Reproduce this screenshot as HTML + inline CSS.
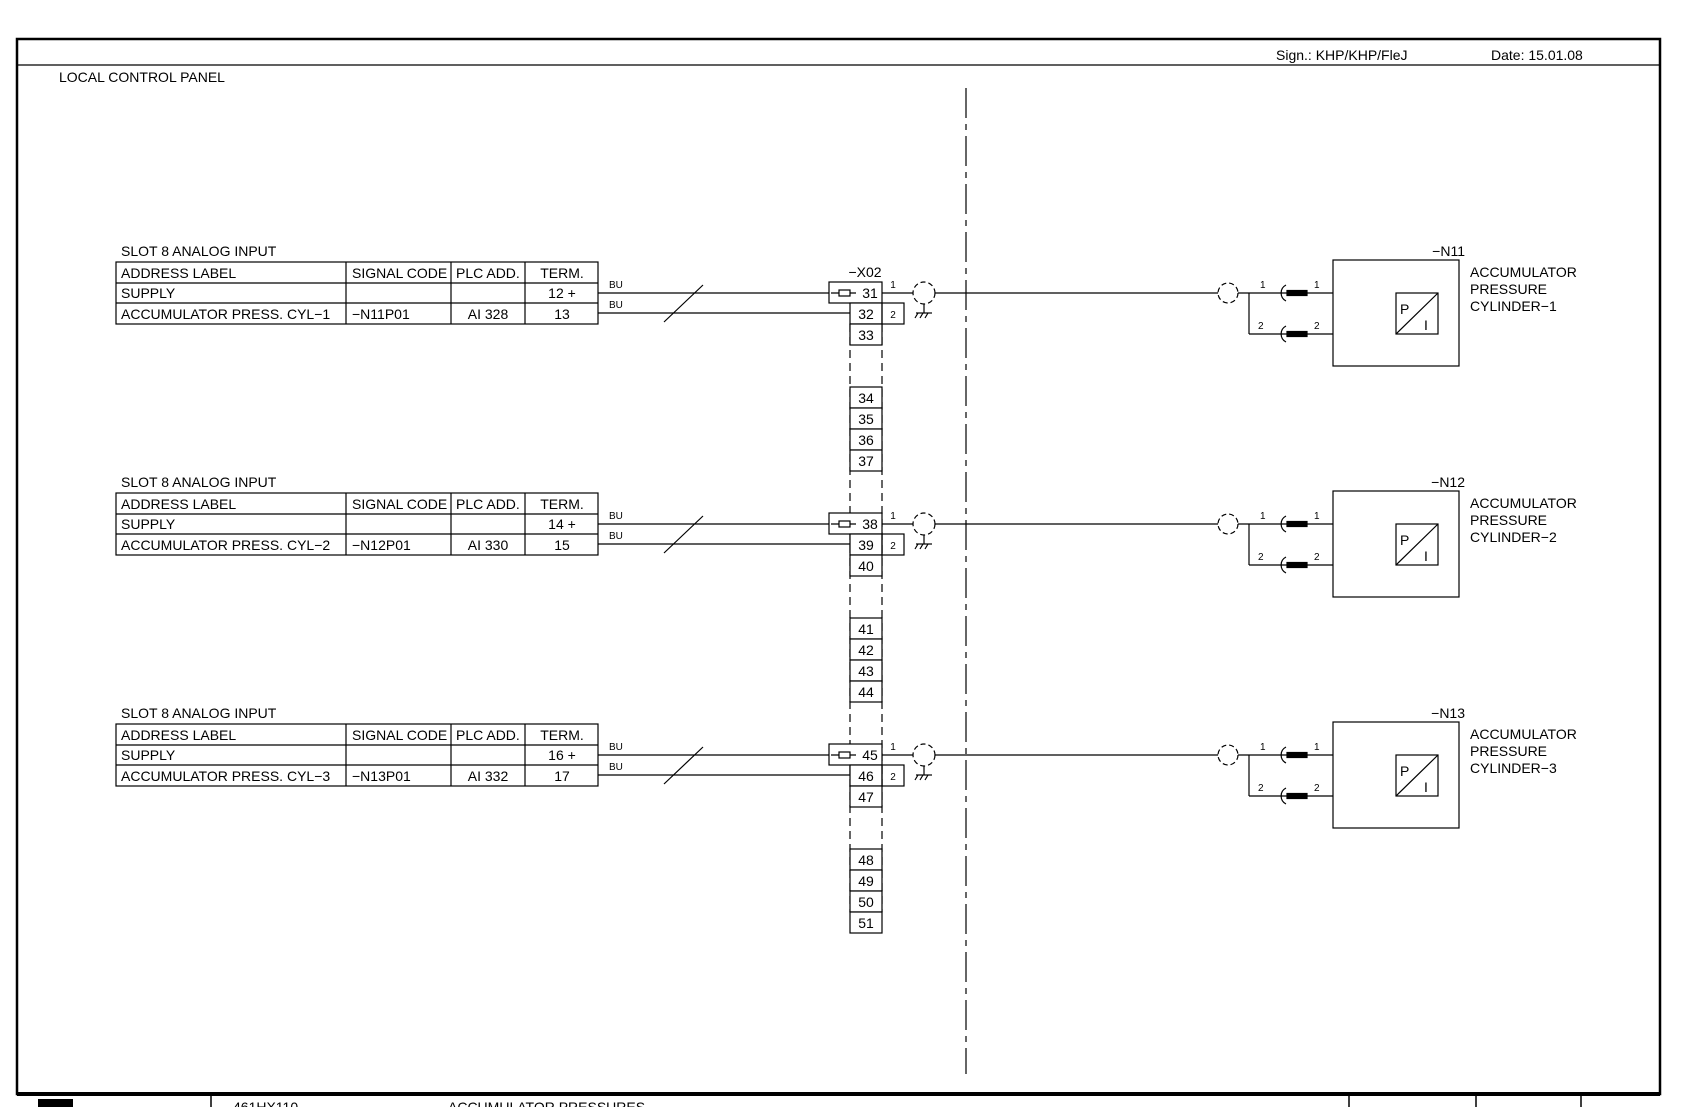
<!DOCTYPE html>
<html><head><style>
html,body{margin:0;padding:0;background:#fff;}
svg{display:block;}
text{font-family:"Liberation Sans",sans-serif;font-size:14px;fill:#000;}
.s{font-size:10px;}
</style></head><body>
<svg width="1681" height="1107" viewBox="0 0 1681 1107" xmlns="http://www.w3.org/2000/svg">
<defs>
<g id="row" fill="none" stroke="#000" stroke-width="1.2">
  <rect x="116" y="262" width="482" height="62"/>
  <line x1="116" y1="283" x2="598" y2="283"/>
  <line x1="116" y1="303" x2="598" y2="303"/>
  <line x1="346" y1="262" x2="346" y2="324"/>
  <line x1="451" y1="262" x2="451" y2="324"/>
  <line x1="525" y1="262" x2="525" y2="324"/>
  <line x1="598" y1="293" x2="829" y2="293"/>
  <line x1="598" y1="313" x2="850" y2="313"/>
  <line x1="664" y1="322" x2="703" y2="285"/>
  <rect x="829" y="282" width="53" height="21" fill="#fff"/>
  <line x1="831" y1="293" x2="856" y2="293"/>
  <rect x="839" y="290" width="11" height="6" fill="#fff"/>
  <rect x="850" y="303" width="32" height="21" fill="#fff"/>
  <rect x="850" y="324" width="32" height="21" fill="#fff"/>
  <rect x="882" y="303" width="22" height="21"/>
  <line x1="882" y1="293" x2="1249" y2="293"/>
  <circle cx="924" cy="293" r="11" fill="#fff" stroke-dasharray="5 3"/>
  <line x1="924" y1="304" x2="924" y2="313"/>
  <line x1="916" y1="313" x2="932" y2="313"/>
  <line x1="918" y1="313" x2="915" y2="318"/><line x1="923" y1="313" x2="920" y2="318"/><line x1="928" y1="313" x2="925" y2="318"/>
  <circle cx="1228" cy="293" r="10" fill="#fff" stroke-dasharray="5 3"/>
  <line x1="1249" y1="293" x2="1249" y2="334"/>
  <line x1="1249" y1="293" x2="1333" y2="293"/>
  <line x1="1249" y1="334" x2="1333" y2="334"/>
  <path d="M1286 285 A9 9 0 0 0 1286 301" />
  <path d="M1286 326 A9 9 0 0 0 1286 342" />
  <rect x="1287" y="290.5" width="20" height="5" fill="#000"/>
  <rect x="1287" y="331.5" width="20" height="5" fill="#000"/>
  <rect x="1333" y="260" width="126" height="106"/>
  <rect x="1396" y="293" width="42" height="41"/>
  <line x1="1396" y1="334" x2="1438" y2="293"/>
</g>
</defs>

<rect x="17" y="39" width="1643" height="1055" fill="none" stroke="#000" stroke-width="2.5"/>
<line x1="17" y1="65" x2="1660" y2="65" stroke="#000" stroke-width="1.2"/>
<text x="1276" y="60">Sign.:  KHP/KHP/FleJ</text>
<text x="1491" y="60">Date:  15.01.08</text>
<text x="59" y="82">LOCAL  CONTROL  PANEL</text>

<line x1="966" y1="88" x2="966" y2="1074" stroke="#000" stroke-width="1.2" stroke-dasharray="30 6 6 6"/>
<line x1="850" y1="324" x2="850" y2="912" stroke="#000" stroke-width="1.2" stroke-dasharray="8 5"/>
<line x1="882" y1="324" x2="882" y2="912" stroke="#000" stroke-width="1.2" stroke-dasharray="8 5"/>
<text x="865" y="277" text-anchor="middle">−X02</text>

<g fill="#fff" stroke="#000" stroke-width="1.2">
<rect x="850" y="387" width="32" height="21"/><rect x="850" y="408" width="32" height="21"/><rect x="850" y="429" width="32" height="21"/><rect x="850" y="450" width="32" height="21"/>
<rect x="850" y="618" width="32" height="21"/><rect x="850" y="639" width="32" height="21"/><rect x="850" y="660" width="32" height="21"/><rect x="850" y="681" width="32" height="21"/>
<rect x="850" y="849" width="32" height="21"/><rect x="850" y="870" width="32" height="21"/><rect x="850" y="891" width="32" height="21"/><rect x="850" y="912" width="32" height="21"/>
</g>
<g text-anchor="middle">
<text x="866" y="403">34</text><text x="866" y="424">35</text><text x="866" y="445">36</text><text x="866" y="466">37</text>
<text x="866" y="634">41</text><text x="866" y="655">42</text><text x="866" y="676">43</text><text x="866" y="697">44</text>
<text x="866" y="865">48</text><text x="866" y="886">49</text><text x="866" y="907">50</text><text x="866" y="928">51</text>
</g>

<use href="#row"/>
<use href="#row" transform="translate(0,231)"/>
<use href="#row" transform="translate(0,462)"/>

<g id="t1">
<text x="121" y="256">SLOT  8  ANALOG  INPUT</text>
<text x="121" y="278">ADDRESS  LABEL</text><text x="352" y="278">SIGNAL  CODE</text><text x="456" y="278">PLC  ADD.</text><text x="562" y="278" text-anchor="middle">TERM.</text>
<text x="121" y="298">SUPPLY</text><text x="562" y="298" text-anchor="middle">12  +</text>
<text x="121" y="319">ACCUMULATOR  PRESS.  CYL−1</text><text x="352" y="319">−N11P01</text><text x="488" y="319" text-anchor="middle">AI  328</text><text x="562" y="319" text-anchor="middle">13</text>
<text class="s" x="609" y="288">BU</text><text class="s" x="609" y="308">BU</text>
<text x="866" y="298" text-anchor="middle" dx="4">31</text><text x="866" y="319" text-anchor="middle">32</text><text x="866" y="340" text-anchor="middle">33</text>
<text class="s" x="893" y="288" text-anchor="middle">1</text><text class="s" x="893" y="318" text-anchor="middle">2</text>
<text class="s" x="1260" y="288">1</text><text class="s" x="1314" y="288">1</text><text class="s" x="1258" y="329">2</text><text class="s" x="1314" y="329">2</text>
<text x="1400" y="314">P</text><text x="1424" y="330">I</text>
<text x="1465" y="256" text-anchor="end">−N11</text>
<text x="1470" y="277">ACCUMULATOR</text><text x="1470" y="294">PRESSURE</text><text x="1470" y="311">CYLINDER−1</text>
</g>
<g transform="translate(0,231)">
<text x="121" y="256">SLOT  8  ANALOG  INPUT</text>
<text x="121" y="278">ADDRESS  LABEL</text><text x="352" y="278">SIGNAL  CODE</text><text x="456" y="278">PLC  ADD.</text><text x="562" y="278" text-anchor="middle">TERM.</text>
<text x="121" y="298">SUPPLY</text><text x="562" y="298" text-anchor="middle">14  +</text>
<text x="121" y="319">ACCUMULATOR  PRESS.  CYL−2</text><text x="352" y="319">−N12P01</text><text x="488" y="319" text-anchor="middle">AI  330</text><text x="562" y="319" text-anchor="middle">15</text>
<text class="s" x="609" y="288">BU</text><text class="s" x="609" y="308">BU</text>
<text x="866" y="298" text-anchor="middle" dx="4">38</text><text x="866" y="319" text-anchor="middle">39</text><text x="866" y="340" text-anchor="middle">40</text>
<text class="s" x="893" y="288" text-anchor="middle">1</text><text class="s" x="893" y="318" text-anchor="middle">2</text>
<text class="s" x="1260" y="288">1</text><text class="s" x="1314" y="288">1</text><text class="s" x="1258" y="329">2</text><text class="s" x="1314" y="329">2</text>
<text x="1400" y="314">P</text><text x="1424" y="330">I</text>
<text x="1465" y="256" text-anchor="end">−N12</text>
<text x="1470" y="277">ACCUMULATOR</text><text x="1470" y="294">PRESSURE</text><text x="1470" y="311">CYLINDER−2</text>
</g>
<g transform="translate(0,462)">
<text x="121" y="256">SLOT  8  ANALOG  INPUT</text>
<text x="121" y="278">ADDRESS  LABEL</text><text x="352" y="278">SIGNAL  CODE</text><text x="456" y="278">PLC  ADD.</text><text x="562" y="278" text-anchor="middle">TERM.</text>
<text x="121" y="298">SUPPLY</text><text x="562" y="298" text-anchor="middle">16  +</text>
<text x="121" y="319">ACCUMULATOR  PRESS.  CYL−3</text><text x="352" y="319">−N13P01</text><text x="488" y="319" text-anchor="middle">AI  332</text><text x="562" y="319" text-anchor="middle">17</text>
<text class="s" x="609" y="288">BU</text><text class="s" x="609" y="308">BU</text>
<text x="866" y="298" text-anchor="middle" dx="4">45</text><text x="866" y="319" text-anchor="middle">46</text><text x="866" y="340" text-anchor="middle">47</text>
<text class="s" x="893" y="288" text-anchor="middle">1</text><text class="s" x="893" y="318" text-anchor="middle">2</text>
<text class="s" x="1260" y="288">1</text><text class="s" x="1314" y="288">1</text><text class="s" x="1258" y="329">2</text><text class="s" x="1314" y="329">2</text>
<text x="1400" y="314">P</text><text x="1424" y="330">I</text>
<text x="1465" y="256" text-anchor="end">−N13</text>
<text x="1470" y="277">ACCUMULATOR</text><text x="1470" y="294">PRESSURE</text><text x="1470" y="311">CYLINDER−3</text>
</g>

<line x1="17" y1="1094" x2="1660" y2="1094" stroke="#000" stroke-width="4"/>
<rect x="38" y="1099" width="35" height="10" fill="#000"/>
<g stroke="#000" stroke-width="1.5">
<line x1="211" y1="1096" x2="211" y2="1107"/><line x1="1349" y1="1096" x2="1349" y2="1107"/>
<line x1="1476" y1="1096" x2="1476" y2="1107"/><line x1="1581" y1="1096" x2="1581" y2="1107"/>
</g>
<text x="233" y="1112">461HX110</text>
<text x="448" y="1112">ACCUMULATOR  PRESSURES</text>
</svg>
</body></html>
